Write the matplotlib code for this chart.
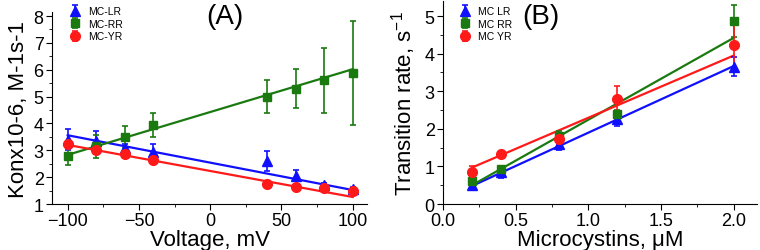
import matplotlib.pyplot as plt
from matplotlib.ticker import AutoMinorLocator

plt.rcParams['font.family'] = ['Liberation Sans', 'DejaVu Sans']
plt.rcParams['mathtext.fontset'] = 'custom'
plt.rcParams['mathtext.rm'] = 'Liberation Sans'
plt.rcParams['mathtext.it'] = 'Liberation Sans:italic'

BLUE = "#1010ff"
GREEN = "#1a7a10"
RED = "#ff1a1a"

# panel A: association rate vs voltage
volt = [-100, -80, -60, -40, 40, 60, 80, 100]
lr_a = [3.4, 3.35, 3.1, 2.95, 2.6, 2.05, 1.7, 1.55]
lr_a_err = [0.4, 0.35, 0.15, 0.3, 0.38, 0.2, 0.1, 0.08]
rr_a = [2.78, 3.15, 3.5, 3.95, 5.0, 5.3, 5.6, 5.88]
rr_a_err = [0.32, 0.42, 0.4, 0.45, 0.6, 0.72, 1.2, 1.93]
yr_a = [3.25, 3.0, 2.85, 2.65, 1.75, 1.62, 1.6, 1.5]
yr_a_err = [0.1, 0.15, 0.1, 0.1, 0.05, 0.05, 0.1, 0.08]
fit_volt = [-100, 100]
fit_lr_a = [3.56, 1.52]
fit_rr_a = [2.83, 6.02]
fit_yr_a = [3.2, 1.26]

# panel B: transition rate vs concentration
conc = [0.2, 0.4, 0.8, 1.2, 2.0]
lr_b = [0.5, 0.85, 1.6, 2.25, 3.65]
lr_b_err = [0.1, 0.15, 0.17, 0.17, 0.25]
rr_b = [0.6, 0.92, 1.82, 2.4, 4.87]
rr_b_err = [0.1, 0.08, 0.13, 0.1, 0.43]
yr_b = [0.85, 1.33, 1.72, 2.8, 4.22]
yr_b_err = [0.17, 0.06, 0.13, 0.35, 0.62]
fit_conc = [0.2, 2.0]
fit_lr_b = [0.48, 3.67]
fit_rr_b = [0.5, 4.42]
fit_yr_b = [0.97, 3.95]

fig = plt.figure(figsize=(7.6, 2.51), dpi=100)
W, H = 760, 251
ax1 = fig.add_axes([52 / W, 1 - 205 / H, 315 / W, 192 / H])
ax2 = fig.add_axes([443 / W, 1 - 205 / H, 314 / W, 203 / H])


def draw(ax, x, ys, errs, fx, fits, labels):
    markers = ["^", "s", "o"]
    colors = [BLUE, GREEN, RED]
    sizes = [7, 6, 7]
    for y, e, fy, lab, m, c, s in zip(ys, errs, fits, labels, markers, colors, sizes):
        ax.errorbar(x, y, yerr=e, fmt=m, color=c, ms=s, capsize=2.5,
                    elinewidth=1.2, capthick=1.2, label=lab, zorder=3)
        ax.plot(fx, fy, color=c, lw=1.6, zorder=2)
    for sp in ["top", "right"]:
        ax.spines[sp].set_visible(False)
    ax.tick_params(which="major", direction="out", length=4, labelsize=13, pad=2)
    ax.tick_params(which="minor", direction="out", length=2.5)
    ax.xaxis.set_minor_locator(AutoMinorLocator(2))
    ax.yaxis.set_minor_locator(AutoMinorLocator(2))
    leg = ax.legend(loc="upper left", frameon=False, fontsize=7.5,
                    handletextpad=0.3, labelspacing=0.25, borderaxespad=0)
    return leg


leg1 = draw(ax1, volt, [lr_a, rr_a, yr_a], [lr_a_err, rr_a_err, yr_a_err],
            fit_volt, [fit_lr_a, fit_rr_a, fit_yr_a], ["MC-LR", "MC-RR", "MC-YR"])
leg1.set_bbox_to_anchor((60 / W, 1 - 3 / H), transform=fig.transFigure)
ax1.set_xlim(-111, 110)
ax1.set_ylim(1, 8.15)
ax1.set_xticks([-100, -50, 0, 50, 100])
ax1.set_yticks([1, 2, 3, 4, 5, 6, 7, 8])
ax1.set_xlabel("Voltage, mV", fontsize=16, labelpad=0)
ax1.set_ylabel("Konx10-6, M-1s-1", fontsize=16, labelpad=3)
fig.text(225 / W, 1 - 17 / H, "(A)", fontsize=20, ha="center", va="center")

leg2 = draw(ax2, conc, [lr_b, rr_b, yr_b], [lr_b_err, rr_b_err, yr_b_err],
            fit_conc, [fit_lr_b, fit_rr_b, fit_yr_b], ["MC LR", "MC RR", "MC YR"])
leg2.set_bbox_to_anchor((450 / W, 1 - 3 / H), transform=fig.transFigure)
ax2.set_xlim(0, 2.16)
ax2.set_ylim(0, 5.4)
ax2.set_xticks([0.0, 0.5, 1.0, 1.5, 2.0])
ax2.set_xticklabels(["0.0", "0.5", "1.0", "1.5", "2.0"])
ax2.set_yticks([0, 1, 2, 3, 4, 5])
ax2.set_xlabel("Microcystins, \u03bcM", fontsize=16, labelpad=0)
ax2.set_ylabel("Transition rate, s$^{-1}$", fontsize=16, labelpad=5)
fig.text(541 / W, 1 - 17 / H, "(B)", fontsize=20, ha="center", va="center")

fig.savefig("out.png", dpi=100)
